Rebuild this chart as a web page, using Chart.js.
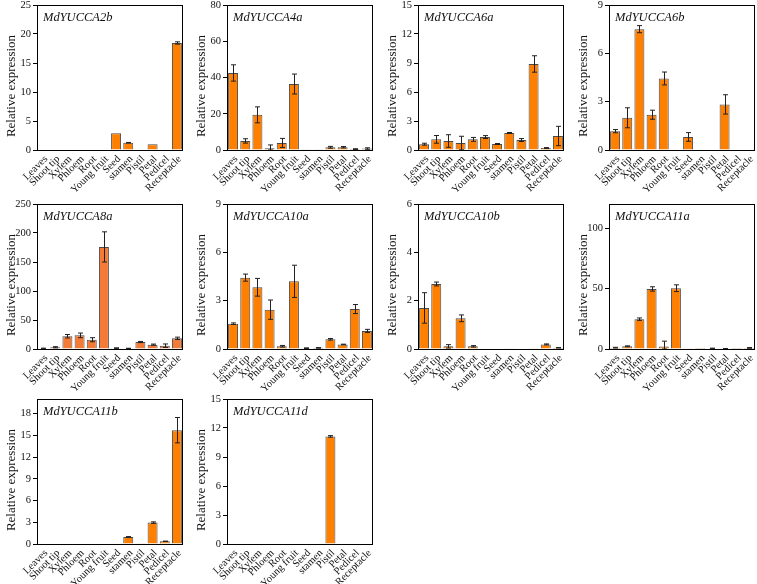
<!DOCTYPE html>
<html>
<head>
<meta charset="utf-8">
<script src="https://cdn.jsdelivr.net/npm/chart.js@4"></script>
<style>
  body { margin: 0; background: #fff; }
  #wrap { position: relative; width: 757px; height: 584px; overflow: hidden; }
  canvas { position: absolute; }
</style>
</head>
<body>
<div id="wrap"></div>
<script>
const tissues = ['Leaves', 'Shoot tip', 'Xylem', 'Phloem', 'Root', 'Young fruit',
  'Seed', 'stamen', 'Pistil', 'Petal', 'Pedicel', 'Receptacle'];

const yuc2bMean = [0, 0, 0, 0, 0, 0, 2.9, 1.25, 0, 1.0, 0, 18.45];
const yuc2bErr  = [0, 0, 0, 0, 0, 0, 0, 0.05, 0, 0, 0, 0.2];
const yuc2bTicks = [0, 5, 10, 15, 20, 25];

const yuc4aMean = [42.5, 5.0, 19.4, 0.9, 3.9, 36.4, 0.2, 0.2, 1.5, 1.5, 0.5, 0.8];
const yuc4aErr  = [4.5, 1.2, 4.4, 1.9, 2.5, 5.5, 0, 0, 0.5, 0.4, 0.2, 0.4];
const yuc4aTicks = [0, 20, 40, 60, 80];

const yuc6aMean = [0.6, 1.1, 0.93, 0.72, 1.1, 1.34, 0.62, 1.76, 1.03, 8.9, 0.2, 1.45];
const yuc6aErr  = [0.1, 0.4, 0.65, 0.7, 0.2, 0.15, 0.05, 0.05, 0.15, 0.85, 0.05, 1.0];
const yuc6aTicks = [0, 3, 6, 9, 12, 15];

const yuc6bMean = [1.17, 2.0, 7.5, 2.19, 4.44, 0, 0.81, 0.03, 0, 2.83, 0, 0];
const yuc6bErr  = [0.1, 0.62, 0.22, 0.28, 0.4, 0, 0.27, 0, 0, 0.6, 0, 0];
const yuc6bTicks = [0, 3, 6, 9];

const yuc8aMean = [1, 3, 22, 23.5, 16, 176, 1.5, 1, 12, 7.5, 5.7, 18.4];
const yuc8aErr  = [0.5, 1, 3, 4, 3.5, 26, 0.5, 0.3, 1, 1, 3, 2];
const yuc8aTicks = [0, 50, 100, 150, 200, 250];

const yuc10aMean = [1.57, 4.43, 3.83, 2.44, 0.17, 4.2, 0.05, 0.07, 0.6, 0.28, 2.48, 1.12];
const yuc10aErr  = [0.05, 0.22, 0.55, 0.6, 0.05, 1.0, 0.02, 0.02, 0.05, 0.02, 0.28, 0.1];
const yuc10aTicks = [0, 3, 6, 9];

const yuc10bMean = [1.7, 2.69, 0.11, 1.27, 0.11, 0, 0, 0.01, 0, 0.01, 0.19, 0.05];
const yuc10bErr  = [0.63, 0.08, 0.07, 0.14, 0.03, 0, 0, 0, 0, 0, 0.02, 0.01];
const yuc10bTicks = [0, 2, 4, 6];

const yuc11aMean = [1.1, 2.2, 24.7, 49.7, 2, 50.3, 0.2, 0.1, 0.5, 0.3, 0.1, 0.9];
const yuc11aErr  = [0.3, 0.4, 1, 1.8, 4.5, 2.8, 0, 0, 0.2, 0.1, 0, 0.3];
const yuc11aTicks = [0, 50, 100];

const yuc11bMean = [0, 0, 0, 0, 0, 0, 0, 0.97, 0.03, 2.95, 0.37, 15.7];
const yuc11bErr  = [0, 0, 0, 0, 0, 0, 0, 0.05, 0, 0.1, 0.03, 1.75];
const yuc11bTicks = [0, 3, 6, 9, 12, 15, 18];

const yuc11dMean = [0, 0, 0, 0, 0, 0, 0, 0, 11.13, 0, 0, 0];
const yuc11dErr  = [0, 0, 0, 0, 0, 0, 0, 0, 0.08, 0, 0, 0];
const yuc11dTicks = [0, 3, 6, 9, 12, 15];

const panels = [
  { name: 'MdYUCCA2b',  mean: yuc2bMean,  err: yuc2bErr,  ticks: yuc2bTicks,  max: 25,  col: 0, row: 0 },
  { name: 'MdYUCCA4a',  mean: yuc4aMean,  err: yuc4aErr,  ticks: yuc4aTicks,  max: 80,  col: 1, row: 0 },
  { name: 'MdYUCCA6a',  mean: yuc6aMean,  err: yuc6aErr,  ticks: yuc6aTicks,  max: 15,  col: 2, row: 0 },
  { name: 'MdYUCCA6b',  mean: yuc6bMean,  err: yuc6bErr,  ticks: yuc6bTicks,  max: 9,   col: 3, row: 0 },
  { name: 'MdYUCCA8a',  mean: yuc8aMean,  err: yuc8aErr,  ticks: yuc8aTicks,  max: 250, col: 0, row: 1, color: '#F57A35' },
  { name: 'MdYUCCA10a', mean: yuc10aMean, err: yuc10aErr, ticks: yuc10aTicks, max: 9,   col: 1, row: 1 },
  { name: 'MdYUCCA10b', mean: yuc10bMean, err: yuc10bErr, ticks: yuc10bTicks, max: 6,   col: 2, row: 1 },
  { name: 'MdYUCCA11a', mean: yuc11aMean, err: yuc11aErr, ticks: yuc11aTicks, max: 120, col: 3, row: 1 },
  { name: 'MdYUCCA11b', mean: yuc11bMean, err: yuc11bErr, ticks: yuc11bTicks, max: 20,  col: 0, row: 2 },
  { name: 'MdYUCCA11d', mean: yuc11dMean, err: yuc11dErr, ticks: yuc11dTicks, max: 15,  col: 1, row: 2 },
];

// frame positions of each plot box
const colLeft = [37, 227, 418, 609];
const rowTop = [5, 204, 399];
const FRAME_W = 146, FRAME_H = 145;
const AXIS_W = 37, PAD_TOP = 5;
const CANVAS_W = 185, CANVAS_H = 198;
const SERIF = '"Liberation Serif", "Times New Roman", serif';

// error bars, box outline, gene name and y title
const decorations = {
  id: 'decorations',
  afterDatasetsDraw(chart, args, opts) {
    const { ctx, chartArea: a, scales: { x, y } } = chart;
    const values = chart.data.datasets[0].data;
    ctx.save();
    ctx.strokeStyle = '#222';
    ctx.lineWidth = 1;
    opts.errors.forEach((e, i) => {
      if (!e) return;
      const cx = Math.round(x.getPixelForValue(i)) + 0.5;
      const top = y.getPixelForValue(values[i] + e);
      const bot = y.getPixelForValue(Math.max(0, values[i] - e));
      ctx.beginPath();
      ctx.moveTo(cx, top); ctx.lineTo(cx, bot);
      ctx.moveTo(cx - 2.5, top); ctx.lineTo(cx + 2.5, top);
      ctx.moveTo(cx - 2.5, bot); ctx.lineTo(cx + 2.5, bot);
      ctx.stroke();
    });
    ctx.strokeStyle = '#000';
    ctx.strokeRect(a.left + 0.5, a.top + 0.5, a.right - a.left - 1, a.bottom - a.top);

    ctx.fillStyle = '#111';
    ctx.font = 'italic 12.5px ' + SERIF;
    ctx.textAlign = 'left';
    ctx.textBaseline = 'alphabetic';
    ctx.fillText(opts.gene, a.left + 6, a.top + 16);

    ctx.translate(12, a.top + 81);
    ctx.rotate(-Math.PI / 2);
    ctx.font = '13px ' + SERIF;
    ctx.textAlign = 'center';
    ctx.textBaseline = 'middle';
    ctx.fillText('Relative expression', 0, 0);
    ctx.restore();
  }
};

const wrap = document.getElementById('wrap');

panels.forEach(p => {
  const canvas = document.createElement('canvas');
  canvas.width = CANVAS_W;
  canvas.height = CANVAS_H;
  canvas.style.left = (colLeft[p.col] - AXIS_W) + 'px';
  canvas.style.top = (rowTop[p.row] - PAD_TOP) + 'px';
  wrap.appendChild(canvas);

  new Chart(canvas.getContext('2d'), {
    type: 'bar',
    data: {
      labels: tissues,
      datasets: [{
        data: p.mean,
        backgroundColor: p.color || '#FF8000',
        borderColor: '#4a4a4a',
        borderWidth: 1,
        borderSkipped: 'start',
        barPercentage: 0.82,
        categoryPercentage: 1.0,
      }],
    },
    options: {
      responsive: false,
      animation: false,
      devicePixelRatio: 1,
      layout: { padding: { top: PAD_TOP, right: CANVAS_W - AXIS_W - FRAME_W, left: 0, bottom: 0 } },
      plugins: {
        legend: { display: false },
        tooltip: { enabled: false },
        decorations: { errors: p.err, gene: p.name },
      },
      scales: {
        x: {
          grid: { display: false, drawTicks: false, tickLength: 0 },
          border: { display: false },
          ticks: {
            autoSkip: false,
            maxRotation: 45,
            minRotation: 45,
            padding: 3,
            labelOffset: 3,
            color: '#111',
            font: { family: SERIF, size: 10.5 },
          },
          afterFit: s => {
            s.height = CANVAS_H - PAD_TOP - FRAME_H;
            s.paddingLeft = 0;
            s.paddingRight = 0;
          },
        },
        y: {
          min: 0,
          max: p.max,
          grid: { drawOnChartArea: false, tickLength: 4, color: '#000' },
          border: { display: true, color: '#000' },
          ticks: {
            padding: 2,
            color: '#111',
            font: { family: SERIF, size: 10.5 },
          },
          afterBuildTicks: s => { s.ticks = p.ticks.map(v => ({ value: v })); },
          afterFit: s => {
            s.width = AXIS_W;
            s.paddingTop = 0;
            s.paddingBottom = 0;
          },
        },
      },
    },
    plugins: [decorations],
  });
});
</script>
</body>
</html>
